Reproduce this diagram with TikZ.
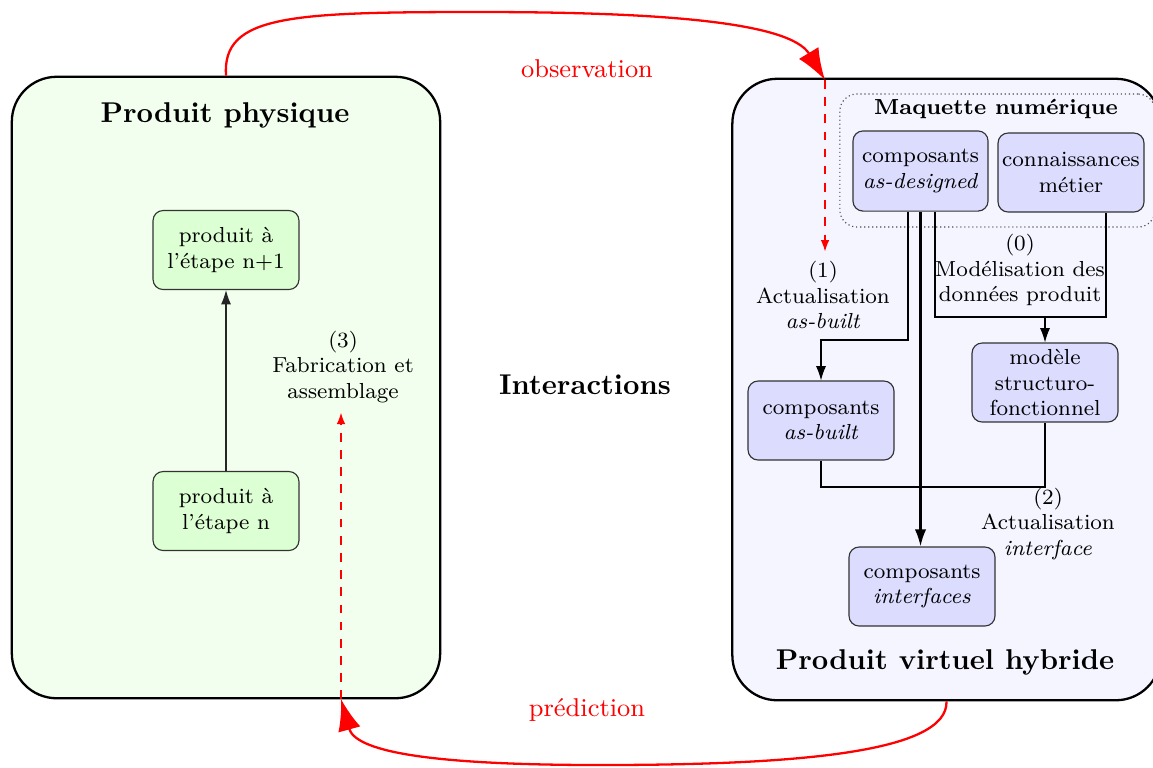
\documentclass[tikz,border=0pt]{standalone}
\usepackage{amsmath}
\usepackage{tikz}
\usepackage{xcolor}
\usetikzlibrary{positioning,shapes,arrows,arrows.meta}

\definecolor{fondvert}{HTML}{F2FFEE}
\definecolor{boitevert}{HTML}{DDFFD4}
\definecolor{fondbleu}{HTML}{F5F5FF}
\definecolor{boitebleu}{HTML}{DCDCFF}

\begin{document}
\begin{tikzpicture}[x=0.01229cm,y=-0.01229cm]
\tikzstyle{every node}+=[font=\fontsize{7.6}{8.8}\selectfont, align=center]
\tikzstyle{grand}=[draw=black, line width=0.8pt, rounded corners=15.7pt, minimum width=149.7pt, minimum height=217.2pt]
\tikzstyle{vert}=[draw=black!80, fill=boitevert, rounded corners=3.5pt, minimum width=51pt, minimum height=27.6pt, inner sep=1pt]
\tikzstyle{bleu}=[draw=black!80, fill=boitebleu, rounded corners=3.5pt, minimum width=51pt, minimum height=27.6pt, inner sep=1pt]
\tikzstyle{titre}=[font=\normalsize\bfseries]
\tikzstyle{fleche}=[-{Latex[length=5pt,width=3.5pt]}]
\tikzstyle{rouge}=[red, thick, -{Latex[length=11pt,width=8pt]}]
\tikzstyle{pointille}=[red, dashed, -{Latex[length=4pt,width=3pt]}]
\useasboundingbox (0,0) rectangle (1153,767);
% produit physique
\node[grand, fill=fondvert] (physique) at (226,387.5) {};
\node[titre] (titrephys) at (225,115) {Produit physique};
\node[vert] (etape1) at (226,250) {produit à\\l'étape n+1};
\node[vert] (etape0) at (226,511) {produit à\\l'étape n};
\node (fabrication) at (343,367) {(3)\\Fabrication et\\assemblage};
\draw[fleche, black!85] (etape0) -- (etape1);
% produit virtuel
\node[grand, fill=fondbleu] (virtuel) at (946.5,389.5) {};
\node[titre] (titrevirt) at (945,662) {Produit virtuel hybride};
\node[draw, densely dotted, black!70, rounded corners=6pt, minimum width=110.2pt, minimum height=46.5pt] (maquette) at (997.5,160.5) {};
\node[font=\fontsize{7.6}{8.8}\selectfont\bfseries] (titremaq) at (996,109) {Maquette numérique};
\node[bleu, minimum width=47.2pt, minimum height=28pt] (designed) at (920.5,171) {composants\\\textit{as-designed}};
\node[bleu] (metier) at (1071,172.5) {connaissances\\métier};
\node (modelisation) at (1020,270) {(0)\\Modélisation des\\données produit};
\node[bleu] (modele) at (1045,382.5) {modèle\\structuro-\\fonctionnel};
\node[bleu] (built) at (821,420.5) {composants\\\textit{as-built}};
\node (actu1) at (823,295) {(1)\\Actualisation\\\textit{as-built}};
\node[bleu] (interfaces) at (922,586.5) {composants\\\textit{interfaces}};
\node (actu2) at (1048,524) {(2)\\Actualisation\\\textit{interface}};
\coordinate (coude1) at (908,340);
\coordinate (coude0) at (935,317);
\coordinate (coude0b) at (1106,317);
\coordinate (coude2) at (821,487);
\draw[fleche] (designed.south -| coude1) -- (coude1) -| (built.north);
\draw[-{Latex[length=6pt,width=4pt]}, thick] (designed.south) -- (designed.south |- interfaces.north);
\draw (designed.south -| coude0) -- (coude0) -- (coude0b) -- (metier.south -| coude0b);
\draw[fleche] (modele.north |- coude0) -- (modele.north);
\draw (built.south) -- (built.south |- coude2) -- (modele.south |- coude2) -- (modele.south);
% interactions
\node[titre] (interactions) at (585,385) {Interactions};
\node[red, font=\small] (observation) at (587,69) {observation};
\node[red, font=\small] (prediction) at (587,710) {prédiction};
\coordinate (obs) at (825,80);
\coordinate (pred) at (341,699);
\draw[rouge] (physique.north) .. controls (222,15) and (290,12) .. (480,12) .. controls (660,12) and (790,22) .. (obs);
\draw[rouge] (virtuel.south) .. controls (948,752) and (800,765) .. (600,765) .. controls (420,765) and (355,750) .. (pred);
\draw[pointille] (obs) -- (actu1.north -| obs);
\draw[pointille] (pred) -- (fabrication.south -| pred);
\end{tikzpicture}
\end{document}
